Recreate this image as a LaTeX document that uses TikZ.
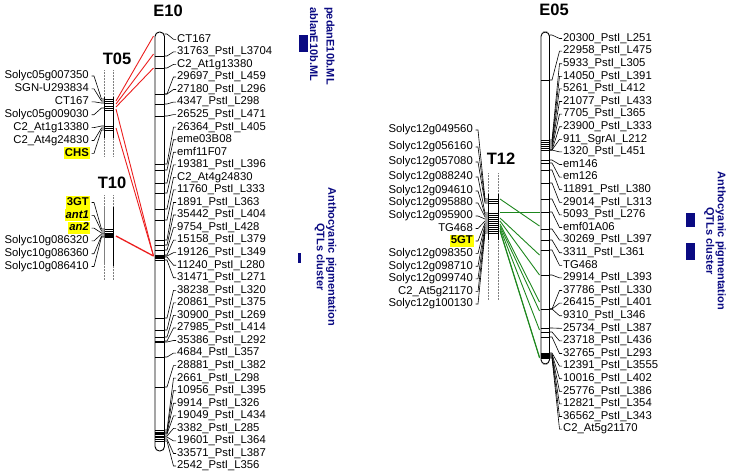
\documentclass[tikz,border=0pt]{standalone}
\usepackage{fontspec}
\setmainfont{Liberation Sans}
\definecolor{qtlblue}{RGB}{10,10,130}
\definecolor{linkred}{RGB}{235,30,30}
\definecolor{linkgreen}{RGB}{30,135,30}
\definecolor{hlyellow}{RGB}{255,255,0}
\begin{document}
\begin{tikzpicture}[x=1pt,y=-1pt,
  lbl/.style={font=\fontsize{11.3}{12.6}\selectfont, inner ysep=0.6pt, inner xsep=1pt, text height=8.3pt, text depth=2.6pt},
  ttl/.style={font=\fontsize{16.5}{18}\selectfont\bfseries, inner sep=0pt},
  qtltext/.style={font=\fontsize{11}{11.5}\selectfont\bfseries, text=qtlblue, rotate=-90, inner sep=0pt},
  chromline/.style={line width=0.9pt},
  tickline/.style={line width=0.6pt},
  conn/.style={line width=0.6pt},
  dotline/.style={densely dotted, line width=0.5pt, gray},
  redlink/.style={linkred, line width=0.9pt},
  greenlink/.style={linkgreen, line width=0.9pt},
  qtlbox/.style={fill=qtlblue, draw=none}
]
\useasboundingbox (0,0) rectangle (730,475);

% ---------------- titles
\node[ttl] (tE10) at (168,11) {E10};
\node[ttl] (tE05) at (554,10) {E05};
\node[ttl] (tT05) at (117,59) {T05};
\node[ttl] (tT10) at (112,183) {T10};
\node[ttl] (tT12) at (501,159) {T12};

% ---------------- E10 chromosome
\draw[chromline, rounded corners=4.5pt] (155,32) rectangle (164.5,451);
\foreach \y in {56,68,94,104,116,164,170,183,193,209,220,240,245,250,255,256,257,258,260,318,330,337,341,342,357,387,430,432,433,434,436,437,439,441}
  \draw[tickline] (155,\y) -- (164.5,\y);
\foreach \t/\m [count=\i from 0] in {
CT167/34, 31763\_PstI\_L3704/56, C2\_At1g13380/68, 29697\_PstI\_L459/94,
27180\_PstI\_L296/94, 4347\_PstI\_L298/104, 26525\_PstI\_L471/116,
26364\_PstI\_L405/164, eme03B08/170, emf11F07/183, 19381\_PstI\_L396/193,
C2\_At4g24830/209, 11760\_PstI\_L333/220, 1891\_PstI\_L363/240,
35442\_PstI\_L404/245, 9754\_PstI\_L428/250, 15158\_PstI\_L379/255,
19126\_PstI\_L349/256, 11240\_PstI\_L280/257, 31471\_PstI\_L271/260,
38238\_PstI\_L320/318, 20861\_PstI\_L375/330, 30900\_PstI\_L269/337,
27985\_PstI\_L414/341, 35386\_PstI\_L292/342, 4684\_PstI\_L357/357,
28881\_PstI\_L382/387, 2661\_PstI\_L298/430, 10956\_PstI\_L395/432,
9914\_PstI\_L326/433, 19049\_PstI\_L434/434, 3382\_PstI\_L285/436,
19601\_PstI\_L364/437, 33571\_PstI\_L387/439, 2542\_PstI\_L356/441}{
  \pgfmathsetmacro\ly{39.3+12.55*\i}
  \node[lbl, anchor=west] (e10l\i) at (176,\ly) {\t};
  \coordinate (e10m\i) at (164.5,\m);
  \draw[conn] (e10m\i) -- ++(2.5,0) -- ([xshift=-2.5pt]e10l\i.west) -- (e10l\i.west);
}

% ---------------- E05 chromosome
\draw[chromline, rounded corners=4.3pt] (541,32) rectangle (549.5,364);
\foreach \y in {80,140,142,144,146,148,150,160,163,170,183,199,212,229,240,250,275,309,328,332,337,353,354,355,356,357,358}
  \draw[tickline] (541,\y) -- (549.5,\y);
\foreach \t/\m [count=\i from 0] in {
20300\_PstI\_L251/35, 22958\_PstI\_L475/80, 5933\_PstI\_L305/140,
14050\_PstI\_L391/142, 5261\_PstI\_L412/144, 21077\_PstI\_L433/146,
7705\_PstI\_L365/148, 23900\_PstI\_L333/150, 911\_SgrAI\_L212/150,
1320\_PstI\_L451/150, em146/160, em126/163, 11891\_PstI\_L380/170,
29014\_PstI\_L313/183, 5093\_PstI\_L276/199, emf01A06/212,
30269\_PstI\_L397/229, 3311\_PstI\_L361/240, TG468/250,
29914\_PstI\_L393/275, 37786\_PstI\_L330/309, 26415\_PstI\_L401/309,
9310\_PstI\_L346/309, 25734\_PstI\_L387/328, 23718\_PstI\_L436/332,
32765\_PstI\_L293/337, 12391\_PstI\_L3555/353, 10016\_PstI\_L402/354,
25776\_PstI\_L386/355, 12821\_PstI\_L354/356, 36562\_PstI\_L343/357,
C2\_At5g21170/358}{
  \pgfmathsetmacro\ly{38.5+12.6*\i}
  \node[lbl, anchor=west] (e05l\i) at (562,\ly) {\t};
  \coordinate (e05m\i) at (549.5,\m);
  \draw[conn] (e05m\i) -- ++(2.5,0) -- ([xshift=-2.5pt]e05l\i.west) -- (e05l\i.west);
}

% ---------------- T05
\draw[dotline] (104.5,70) -- (104.5,157);
\draw[dotline] (113,70) -- (113,157);
\draw[chromline] (104.5,97) -- (104.5,138);
\draw[chromline] (113,97) -- (113,138);
\foreach \y in {99,101,103,106,108,110,126,128,130}
  \draw[tickline] (104.5,\y) -- (113,\y);
\foreach \t/\m/\f [count=\i from 0] in {
Solyc05g007350/99/none, SGN-U293834/101/none, CT167/103/none,
Solyc05g009030/108/none, C2\_At1g13380/126/none, C2\_At4g24830/128/none,
\textbf{CHS}/130/hlyellow}{
  \pgfmathsetmacro\ly{76+12.9*\i}
  \node[lbl, anchor=east, fill=\f] (t05l\i) at (90,\ly) {\t};
  \coordinate (t05m\i) at (104.5,\m);
  \draw[conn] ([xshift=1.5pt]t05l\i.east) -- ++(2.5,0) -- ([xshift=-3pt]t05m\i) -- (t05m\i);
}

% ---------------- T10
\draw[dotline] (104.5,195) -- (104.5,280);
\draw[dotline] (113,195) -- (113,280);
\draw[chromline, gray] (104.5,207) -- (104.5,264);
\draw[chromline] (113,207) -- (113,266);
\foreach \y in {229,231,233,234,235,236,237}
  \draw[tickline] (104.5,\y) -- (113,\y);
\foreach \t/\m/\f [count=\i from 0] in {
\textbf{3GT}/229/hlyellow, \textbf{\textit{ant1}}/231/hlyellow, \textbf{\textit{an2}}/233/hlyellow,
Solyc10g086320/234/none, Solyc10g086360/236/none, Solyc10g086410/237/none}{
  \pgfmathsetmacro\ly{202.5+12.8*\i}
  \node[lbl, anchor=east, fill=\f] (t10l\i) at (90,\ly) {\t};
  \coordinate (t10m\i) at (104.5,\m);
  \draw[conn] ([xshift=1.5pt]t10l\i.east) -- ++(2.5,0) -- ([xshift=-3pt]t10m\i) -- (t10m\i);
}

% ---------------- T12
\draw[dotline] (488,173) -- (488,300);
\draw[dotline] (498,173) -- (498,300);
\draw[chromline] (488,194) -- (488,240);
\draw[chromline] (498,194) -- (498,240);
\foreach \y in {199,201,203,213,215,217,219,221,223,225,227,229,231,233}
  \draw[tickline] (488,\y) -- (498,\y);
\foreach \t/\ly/\m/\f [count=\i from 0] in {
Solyc12g049560/130/199/none, Solyc12g056160/147/201/none, Solyc12g057080/162/203/none,
Solyc12g088240/177/213/none, Solyc12g094610/191/215/none, Solyc12g095880/203/217/none,
Solyc12g095900/216/219/none, TG468/228.5/221/none, \textbf{5GT}/241/223/hlyellow,
Solyc12g098350/253.6/225/none, Solyc12g098710/266.2/227/none, Solyc12g099740/278.8/229/none,
C2\_At5g21170/291.4/231/none, Solyc12g100130/304/233/none}{
  \node[lbl, anchor=east, fill=\f] (t12l\i) at (474,\ly) {\t};
  \coordinate (t12m\i) at (488,\m);
  \draw[conn] ([xshift=1.5pt]t12l\i.east) -- ++(2.5,0) -- ([xshift=-3pt]t12m\i) -- (t12m\i);
}

% ---------------- red links T05/T10 -> E10
\coordinate (r05a) at (116,101);
\coordinate (r05b) at (116,104);
\coordinate (r05c) at (116,107);
\coordinate (r05d) at (116,109);
\coordinate (r05e) at (116,128);
\coordinate (r10a) at (116,236);
\coordinate (re10a) at (153.5,36);
\coordinate (re10b) at (153.5,54);
\coordinate (re10c) at (153.5,68);
\coordinate (re10d) at (153.5,256);
\draw[redlink] (r05a) -- (re10a);
\draw[redlink] (r05b) -- (re10b);
\draw[redlink] (r05c) -- (re10c);
\draw[redlink] (r05d) -- (re10d);
\draw[redlink] (r05e) -- (re10d);
\draw[redlink, line width=1.3pt] (r10a) -- (re10d);

% ---------------- green links T12 -> E05
\foreach \a/\b [count=\k] in {199/226, 212/212, 218/255, 221/275, 224/302, 226/311, 228/330, 230/357, 231/358}{
  \coordinate (g12\k) at (500,\a);
  \coordinate (g05\k) at (539.5,\b);
  \draw[greenlink] (g12\k) -- (g05\k);
}

% ---------------- QTL annotations
\path[qtlbox] (299,35) rectangle (308,52);
\node[qtltext, anchor=west] (qped) at (329.5,7) {pedanE10b.ML};
\node[qtltext, anchor=west] (qabl) at (314,7) {ablanE10b.ML};
\path[qtlbox] (298.3,253) rectangle (300.8,263);
\node[qtltext, align=center] (qe10) at (325.5,257) {Anthocyanic pigmentation\\QTLs cluster};
\path[qtlbox] (686,213) rectangle (695,227);
\path[qtlbox] (686,243) rectangle (695,260);
\node[qtltext, align=center] (qe05) at (715,241) {Anthocyanic pigmentation\\QTLs cluster};
\end{tikzpicture}
\end{document}
